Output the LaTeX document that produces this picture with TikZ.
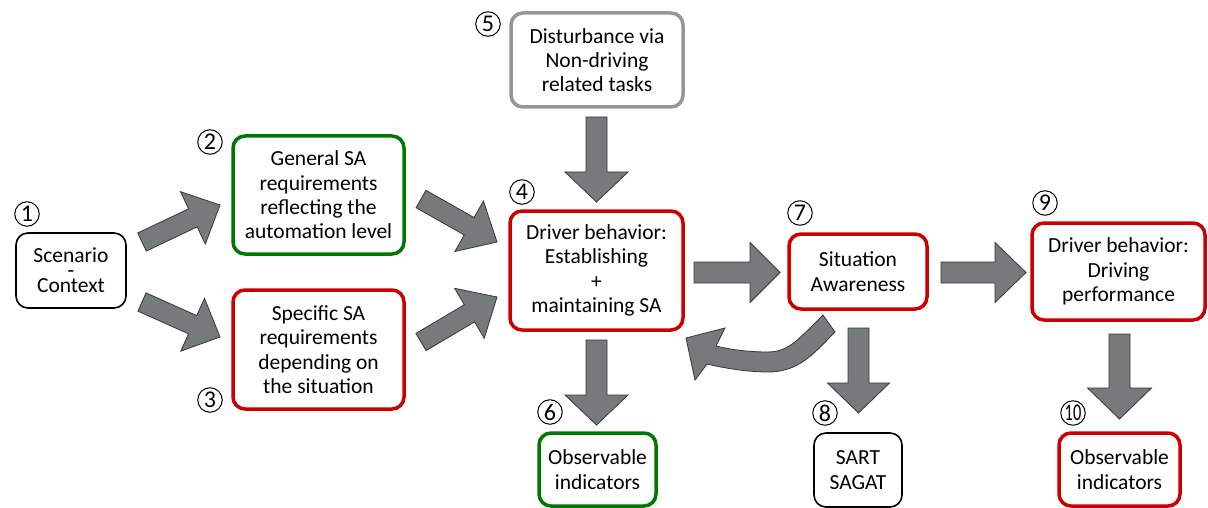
\documentclass[tikz,border=0pt]{standalone}
\usepackage{fontspec}
\setmainfont{Carlito}
\usetikzlibrary{calc}
\definecolor{sared}{RGB}{204,0,0}
\definecolor{sagreen}{RGB}{0,120,0}
\definecolor{sagray}{RGB}{150,150,150}
\definecolor{arrowfill}{RGB}{118,122,122}
\definecolor{arrowline}{RGB}{55,55,55}
\tikzset{
  box/.style={draw, rounded corners=12pt, align=center, inner sep=0pt,
    font=\fontsize{21.5}{24.3}\selectfont},
  thickbox/.style={box, line width=3.5pt},
  thinbox/.style={box, line width=1.6pt, draw=black},
  num/.style={circle, draw, line width=1pt, inner sep=0pt, minimum size=24.5pt,
    font=\fontsize{24}{24}\selectfont},
  blockarrow/.style={fill=arrowfill, draw=arrowline, line width=0.8pt, line join=miter},
}
% block arrow: #1 tail centre, #2 tip, #3 shaft half width, #4 head half width, #5 head length
\newcommand\blkarrow[5]{%
  \coordinate (ba-c) at ($(#2)!#5!(#1)$);
  \filldraw[blockarrow]
    ($(#1)!#3!90:(#2)$) -- ($(ba-c)!#3!-90:(#1)$) -- ($(ba-c)!#4!-90:(#1)$) -- (#2)
    -- ($(ba-c)!#4!90:(#1)$) -- ($(ba-c)!#3!90:(#1)$) -- ($(#1)!#3!-90:(#2)$) -- cycle;}
\begin{document}
\begin{tikzpicture}[x=1pt,y=-1pt]
\useasboundingbox[fill=white] (0,0) rectangle (1208,508);

% boxes
\node[thinbox, minimum width=110pt, minimum height=75pt] (scen) at (71,270.5)
  {Scenario\\[6pt]Context};
\node[font=\fontsize{21.5}{24.3}\selectfont, inner sep=0pt, anchor=base] (scendash) at (71,277) {-};
\node[thickbox, draw=sagreen, minimum width=171pt, minimum height=118pt] (gen) at (318.5,195)
  {General SA\\requirements\\reflecting the\\automation level};
\node[thickbox, draw=sared, minimum width=171pt, minimum height=119pt] (spec) at (318.5,349.5)
  {Specific SA\\requirements\\depending on\\the situation};
\node[thickbox, draw=sared, minimum width=173pt, minimum height=119pt] (drv) at (596.5,270.5)
  {Driver behavior:\\Establishing\\+\\maintaining SA};
\node[thickbox, draw=sagray, minimum width=172pt, minimum height=94pt] (dist) at (597,60)
  {Disturbance via\\Non-driving\\related tasks};
\node[thickbox, draw=sagreen, minimum width=117pt, minimum height=73pt] (obs1) at (597.5,469.5)
  {Observable\\indicators};
\node[thickbox, draw=sared, minimum width=138pt, minimum height=75pt] (sa) at (858,271.5)
  {Situation\\Awareness};
\node[thinbox, minimum width=88pt, minimum height=74pt] (sart) at (858,470)
  {SART\\SAGAT};
\node[thickbox, draw=sared, minimum width=173pt, minimum height=97pt] (perf) at (1118.5,271.5)
  {Driver behavior:\\Driving\\performance};
\node[thickbox, draw=sared, minimum width=121pt, minimum height=73pt] (obs2) at (1119.5,469.5)
  {Observable\\indicators};

% step numbers
\node[num] (n1) at (27,214) {1};
\node[num] (n2) at (210,142) {2};
\node[num] (n3) at (210,400) {3};
\node[num] (n4) at (522,192) {4};
\node[num] (n5) at (488,24) {5};
\node[num] (n6) at (550,412) {6};
\node[num] (n7) at (800,213) {7};
\node[num] (n8) at (825,413) {8};
\node[num] (n9) at (1045,203) {9};
\node[num] (n10) at (1073,413) {\scalebox{0.68}[1]{10}};

% block arrows
\coordinate (a1s) at (142,242);  \coordinate (a1e) at (220,205);
\coordinate (a2s) at (142,302);  \coordinate (a2e) at (220,337);
\coordinate (a3s) at (421,199);  \coordinate (a3e) at (497,242);
\coordinate (a4s) at (421,342);  \coordinate (a4e) at (497,297);
\coordinate (a5s) at (596.5,117); \coordinate (a5e) at (596.5,202);
\coordinate (a6s) at (596.5,340); \coordinate (a6e) at (596.5,425);
\coordinate (a7s) at (694,272.5); \coordinate (a7e) at (780,272.5);
\coordinate (a8s) at (941,272.5); \coordinate (a8e) at (1026,272.5);
\coordinate (a9s) at (858.5,328); \coordinate (a9e) at (858.5,413);
\coordinate (a10s) at (1119.5,334); \coordinate (a10e) at (1119.5,419);

\blkarrow{a1s}{a1e}{10pt}{29pt}{30pt}
\blkarrow{a2s}{a2e}{10pt}{29pt}{30pt}
\blkarrow{a3s}{a3e}{10pt}{29pt}{32pt}
\blkarrow{a4s}{a4e}{10pt}{29pt}{32pt}
\blkarrow{a5s}{a5e}{10.5pt}{31.5pt}{30pt}
\blkarrow{a6s}{a6e}{10.5pt}{31.5pt}{30pt}
\blkarrow{a7s}{a7e}{10.5pt}{30pt}{30pt}
\blkarrow{a8s}{a8e}{10.5pt}{30pt}{31pt}
\blkarrow{a9s}{a9e}{10.5pt}{31pt}{30pt}
\blkarrow{a10s}{a10e}{10.5pt}{32pt}{31pt}

% curved feedback arrow from situation awareness back to driver behaviour
\filldraw[blockarrow] (823,315) .. controls (800,337) and (790,352) .. (768,352)
  .. controls (750,352) and (732,350) .. (716,346) -- (725,328) -- (686,338)
  -- (695,380) -- (707,364) .. controls (728,369) and (750,372) .. (768,372)
  .. controls (800,372) and (815,352) .. (835,332) -- cycle;
\end{tikzpicture}
\end{document}
